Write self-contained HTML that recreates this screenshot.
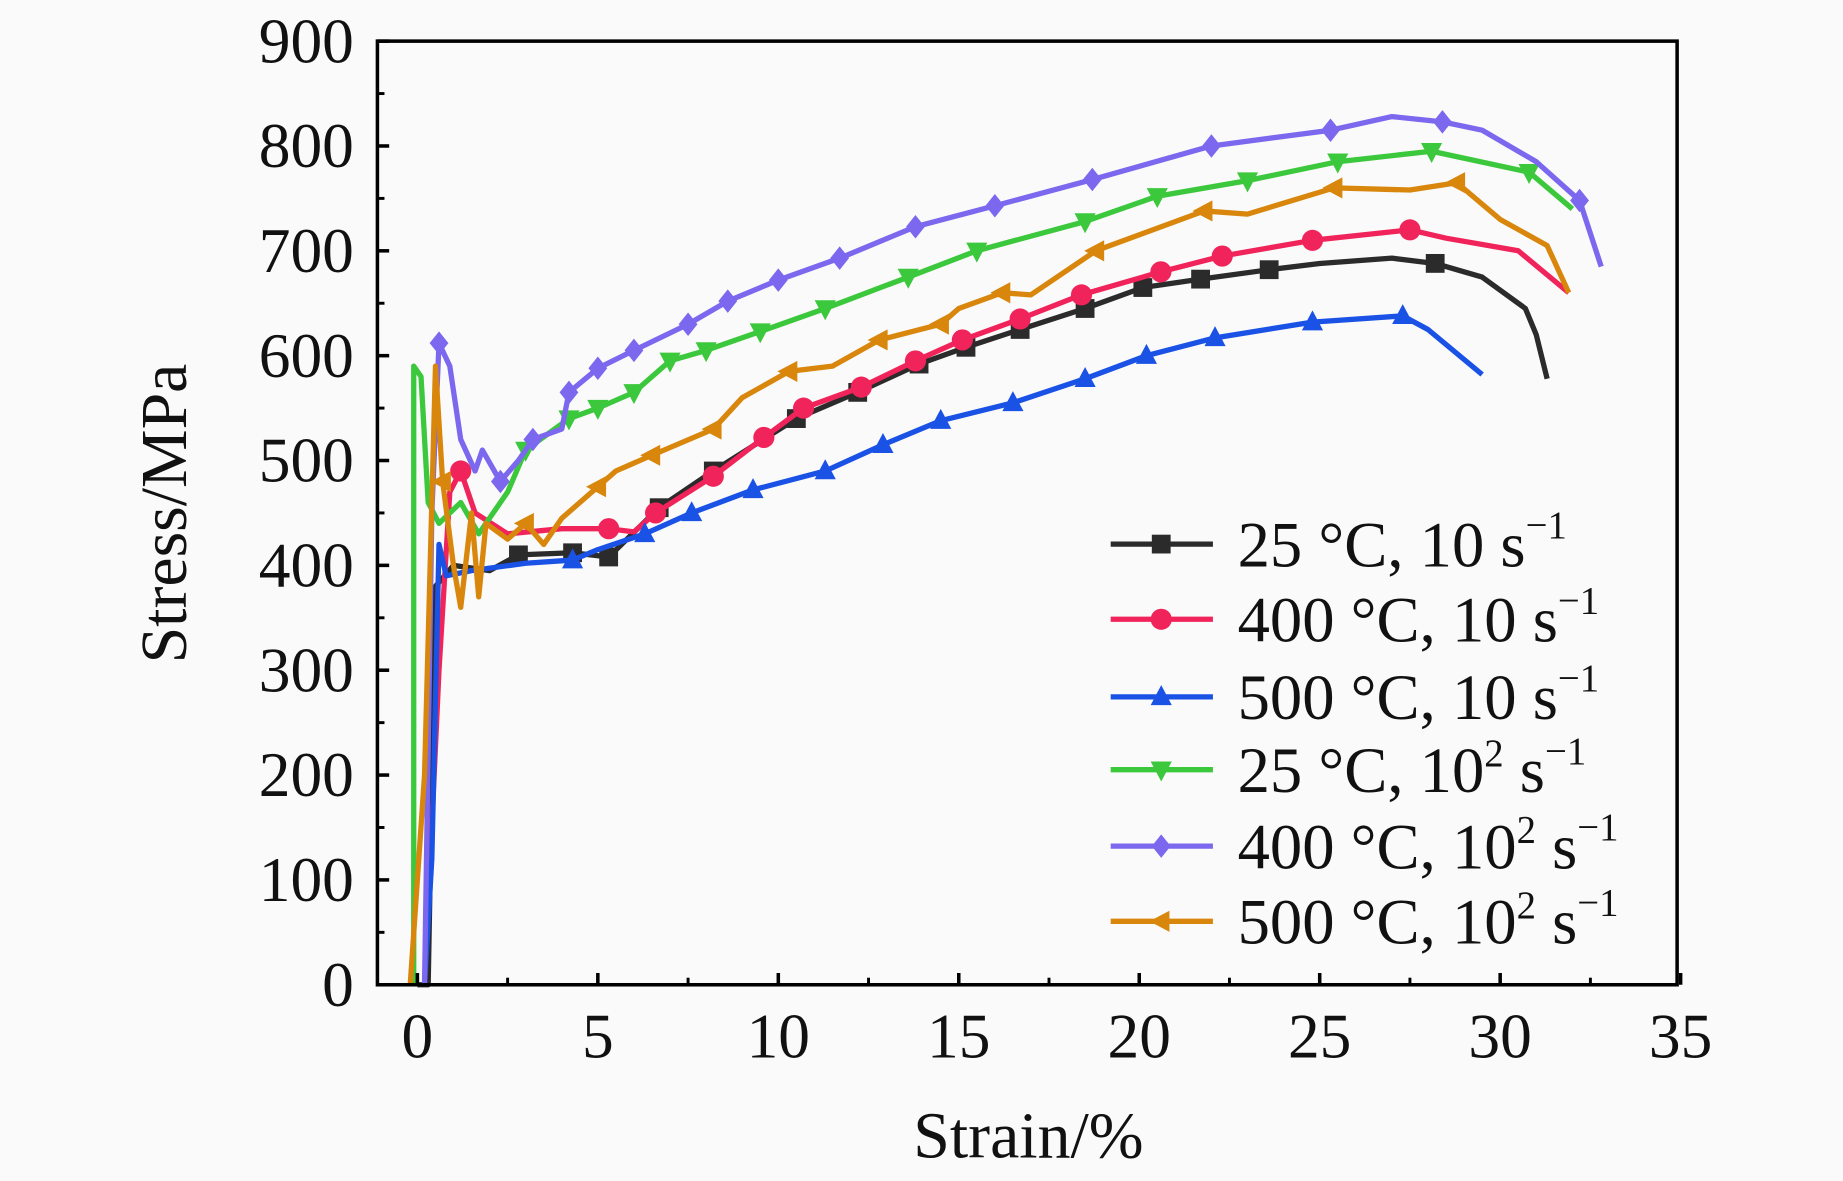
<!DOCTYPE html>
<html><head><meta charset="utf-8"><style>
html,body{margin:0;padding:0;background:#fafafa;}
svg{display:block;}
text{font-family:"Liberation Serif",serif;fill:#111;}
</style></head><body>
<svg id="chart" width="1843" height="1181" viewBox="0 0 1568 1005" xmlns="http://www.w3.org/2000/svg">
<rect width="1568" height="1005" fill="#fafafa"/>
<g id="series"></g>
<g id="axes"></g>
<text x="875" y="985" font-size="56" text-anchor="middle">Strain/%</text>
<text transform="translate(158,437) rotate(-90)" font-size="56" text-anchor="middle">Stress/MPa</text>
<g id="legend"></g>
</svg>
<script>
const xTicks=[0,5,10,15,20,25,30,35];
const yTicks=[0,100,200,300,400,500,600,700,800,900];
const seriesNames=["25 °C, 10 s","400 °C, 10 s","500 °C, 10 s","25 °C, 10","400 °C, 10","500 °C, 10"];
const colors=["#2b2b2b","#f0245a","#1a52e6","#3cc83c","#7b68ee","#d8860c"];
const s1x=[0,0.3,0.5,1,2,2.8,4.3,5.3,6.7,8.2,10.5,12.2,13.9,15.2,16.7,18.5,20.1,21.7,23.6,25,27,28.2,29.5,30.7,31,31.3];
const s1y=[0,0,380,400,395,410,412,408,455,490,540,565,592,608,625,645,665,673,682,688,693,688,675,645,620,578];
const s1m=[2.8,4.3,5.3,6.7,8.2,10.5,12.2,13.9,15.2,16.7,18.5,20.1,21.7,23.6,28.2];
const s2x=[0.2,0.6,0.9,1.2,1.6,2.5,4,5.3,6,6.6,8.2,9.6,10.7,12.3,13.8,15.1,16.7,18.4,20.6,22.3,24.8,27.5,28.5,30.5,31.9];
const s2y=[0,300,470,490,450,430,435,435,432,450,485,522,550,570,595,615,635,658,680,695,710,720,712,700,660];
const s2m=[1.2,5.3,6.6,8.2,9.6,10.7,12.3,13.8,15.1,16.7,18.4,20.6,22.3,24.8,27.5];
const s3x=[0.2,0.4,0.6,0.8,1.5,3,4.3,5,6.3,7.6,9.3,11.3,12.9,14.5,16.5,18.5,20.2,22.1,24.8,27.3,28,29.5];
const s3y=[0,120,420,390,395,402,405,415,430,450,472,490,515,538,555,578,600,617,632,638,625,582];
const s3m=[4.3,6.3,7.6,9.3,11.3,12.9,14.5,16.5,18.5,20.2,22.1,24.8,27.3];
const s4x=[-0.1,-0.1,0.1,0.3,0.6,1.2,1.7,2.5,3,3.6,4.2,5,6,7,8,9.5,11.3,13.6,15.5,18.5,20.5,23,25.5,28.1,30.8,32];
const s4y=[0,590,580,460,440,460,430,470,510,525,540,550,565,595,605,623,645,675,700,728,752,767,785,795,775,740];
const s4m=[3,4.2,5,6,7,8,9.5,11.3,13.6,15.5,18.5,20.5,23,25.5,28.1,30.8];
const s5x=[0.2,0.4,0.6,0.9,1.2,1.6,1.8,2.3,2.8,3.2,4,4.2,5,6,7.5,8.6,10,11.7,13.8,16,18.7,22,25.3,27,28.4,29.5,31,32.2,32.8];
const s5y=[0,450,612,590,520,490,510,480,500,520,530,565,588,605,630,652,672,693,723,743,768,800,815,828,823,815,785,748,685];
const s5m=[0.6,2.3,3.2,4.2,5,6,7.5,8.6,10,11.7,13.8,16,18.7,22,25.3,28.4,32.2];
const s6x=[-0.2,0.2,0.5,0.7,1,1.2,1.5,1.7,1.9,2.5,3,3.5,4,5,5.5,6.5,8.2,9,10.3,11.5,12.8,14.5,15,16.2,17,18.8,21.8,23,25.4,27.5,28.8,30,31.3,31.9];
const s6y=[0,200,590,480,400,360,450,370,440,425,440,420,445,475,490,505,530,560,585,590,615,630,645,660,658,700,738,735,760,758,765,730,705,660];
const s6m=[0.7,3,5,6.5,8.2,10.3,12.8,14.5,16.2,18.8,21.8,25.4,28.8];

const L=321,R=1427,T=35,B=838;
const X=v=>355+v*(1430-355)/35;
const Y=v=>B-v*(B-T)/900;
const NS="http://www.w3.org/2000/svg";
function mk(tag,attrs,parent){const e=document.createElementNS(NS,tag);for(const k in attrs)e.setAttribute(k,attrs[k]);parent.appendChild(e);return e;}
const axes=document.getElementById('axes');
const sg=document.getElementById('series');
const lg=document.getElementById('legend');

function marker(kind,cx,cy,col,parent){
  const s=8;let e;
  if(kind===0) e=mk('rect',{x:cx-s,y:cy-s,width:2*s,height:2*s,fill:col},parent);
  else if(kind===1) e=mk('circle',{cx:cx,cy:cy,r:s+1,fill:col},parent);
  else if(kind===2) e=mk('polygon',{points:`${cx},${cy-s-2} ${cx+s+1},${cy+s-1} ${cx-s-1},${cy+s-1}`,fill:col},parent);
  else if(kind===3) e=mk('polygon',{points:`${cx},${cy+s+2} ${cx+s+1},${cy-s+1} ${cx-s-1},${cy-s+1}`,fill:col},parent);
  else if(kind===4) e=mk('polygon',{points:`${cx},${cy-s-2} ${cx+s},${cy} ${cx},${cy+s+2} ${cx-s},${cy}`,fill:col},parent);
  else e=mk('polygon',{points:`${cx-s-2},${cy} ${cx+s-1},${cy-s-1} ${cx+s-1},${cy+s+1}`,fill:col},parent);
  return e;
}
const allX=[s1x,s2x,s3x,s4x,s5x,s6x],allY=[s1y,s2y,s3y,s4y,s5y,s6y],allM=[s1m,s2m,s3m,s4m,s5m,s6m];
for(let i=0;i<6;i++){
  const g=mk('g',{},sg);
  
  
  const d=allX[i].map((v,j)=>(j?'L':'M')+X(v).toFixed(1)+','+Y(allY[i][j]).toFixed(1)).join(' ');
  const p=mk('path',{d:d,fill:'none',stroke:colors[i],'stroke-width':4.5,'stroke-linejoin':'round'},g);
  
  
  allM[i].forEach(mv=>{
    const j=allX[i].indexOf(mv);
    if(j<0)return;
    const m=marker(i,X(mv),Y(allY[i][j]),colors[i],g);
    
    
  });
}
const fr=mk('rect',{x:L,y:T,width:R-L,height:B-T,fill:'none',stroke:'#000','stroke-width':3},axes);


xTicks.forEach(v=>{
  mk('line',{x1:X(v),x2:X(v),y1:B,y2:B-10,stroke:'#000','stroke-width':3},axes);
  if(v<35) mk('line',{x1:X(v+2.5),x2:X(v+2.5),y1:B,y2:B-6,stroke:'#000','stroke-width':2.5},axes);
  const t=mk('text',{x:X(v),y:900,'font-size':54,'text-anchor':'middle'},axes);t.textContent=v;
  
  
});
yTicks.forEach(v=>{
  mk('line',{x1:L,x2:L+10,y1:Y(v),y2:Y(v),stroke:'#000','stroke-width':3},axes);
  if(v<900) mk('line',{x1:L,x2:L+6,y1:Y(v+50),y2:Y(v+50),stroke:'#000','stroke-width':2.5},axes);
  const t=mk('text',{x:301,y:Y(v)+18,'font-size':54,'text-anchor':'end'},axes);t.textContent=v;
  
  
});
const ly=[463,527,593,655,720,784];
for(let i=0;i<6;i++){
  const g=mk('g',{},lg);
  
  
  mk('line',{x1:945,x2:1032,y1:ly[i],y2:ly[i],stroke:colors[i],'stroke-width':4.5},g);
  marker(i,988,ly[i],colors[i],g);
  const t=mk('text',{x:1053,y:ly[i]+19,'font-size':55},g);
  const sq=i>=3;
  t.appendChild(document.createTextNode(seriesNames[i]));
  if(sq){const a=mk('tspan',{dy:-22,'font-size':33},t);a.textContent='2';const b=mk('tspan',{dy:22},t);b.textContent=' s';}
  const c=mk('tspan',{dy:-24,'font-size':33},t);c.textContent='−1';
}
</script>
</body></html>
